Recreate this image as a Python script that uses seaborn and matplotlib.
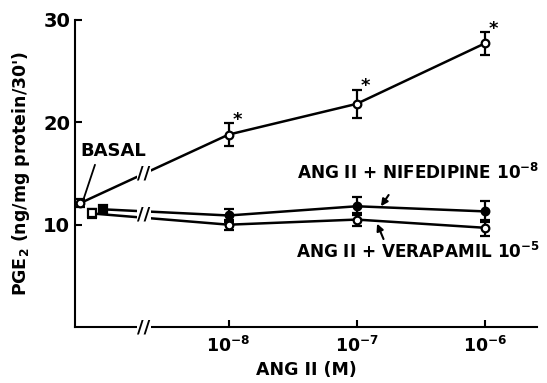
import numpy as np
import pandas as pd
import matplotlib
matplotlib.use('Agg')
import matplotlib.pyplot as plt
import seaborn as sns

# x positions in log10(M); basal / drug-alone points sit left of the axis break
conc_x = [-8, -7, -6]
conc_labels = ['$10^{-8}$', '$10^{-7}$', '$10^{-6}$']

basal_x, basal_y, basal_err = -9.16, 12.1, 0.4

angii_y = [18.8, 21.8, 27.7]
angii_err = [1.1, 1.4, 1.1]

nif_first_x, nif_first_y, nif_first_err = -8.98, 11.5, 0.3
nif_y = [10.9, 11.8, 11.3]
nif_err = [0.6, 0.9, 1.0]

ver_first_x, ver_first_y, ver_first_err = -9.07, 11.1, 0.4
ver_y = [10.0, 10.5, 9.7]
ver_err = [0.5, 0.6, 0.8]

x_break = -8.66

sns.set_style('ticks')
plt.rcParams['font.family'] = ['DejaVu Sans']
plt.rcParams['font.weight'] = 'bold'
plt.rcParams['axes.labelweight'] = 'bold'
plt.rcParams['mathtext.default'] = 'bf'
plt.rcParams['text.color'] = 'black'
plt.rcParams['axes.labelcolor'] = 'black'
plt.rcParams['xtick.color'] = 'black'
plt.rcParams['ytick.color'] = 'black'

fig = plt.figure(figsize=(5.47, 3.83), dpi=100)
ax = fig.add_axes([0.137, 0.146, 0.845, 0.802])

df = pd.concat([
    pd.DataFrame({'x': [basal_x] + conc_x, 'y': [basal_y] + angii_y, 'g': 'ang'}),
    pd.DataFrame({'x': [nif_first_x] + conc_x, 'y': [nif_first_y] + nif_y, 'g': 'nif'}),
    pd.DataFrame({'x': [ver_first_x] + conc_x, 'y': [ver_first_y] + ver_y, 'g': 'ver'}),
])
sns.lineplot(data=df, x='x', y='y', units='g', estimator=None, color='black',
             lw=1.8, ax=ax, legend=False)

eb = dict(fmt='none', ecolor='black', elinewidth=1.6, capsize=3.5, capthick=1.6, zorder=3)
ax.errorbar(conc_x, angii_y, yerr=angii_err, **eb)
ax.errorbar(conc_x, nif_y, yerr=nif_err, **eb)
ax.errorbar(conc_x, ver_y, yerr=ver_err, **eb)
ax.errorbar([basal_x, nif_first_x, ver_first_x], [basal_y, nif_first_y, ver_first_y],
            yerr=[basal_err, nif_first_err, ver_first_err], **eb)

mk = dict(ms=5.5, mew=1.6, mec='black', ls='none', zorder=4)
ax.plot(conc_x, angii_y, 'o', mfc='white', **mk)
ax.plot(conc_x, nif_y, 'o', mfc='black', **mk)
ax.plot(conc_x, ver_y, 'o', mfc='white', **mk)
ax.plot([basal_x], [basal_y], 'o', mfc='white', **mk)
ax.plot([nif_first_x], [nif_first_y], 's', mfc='black', **mk)
ax.plot([ver_first_x], [ver_first_y], 's', mfc='white', **mk)

# significance stars
for x, y, e in zip(conc_x, angii_y, angii_err):
    ax.annotate('*', (x, y + e), xytext=(6, -4), textcoords='offset points',
                fontsize=13, ha='center', va='bottom')

# axis breaks on the lines and on the x axis
brk = dict(ha='center', va='center', fontsize=13,
           bbox=dict(fc='white', ec='none', pad=0.2), zorder=5)
y_up = np.interp(x_break, [basal_x, conc_x[0]], [basal_y, angii_y[0]])
y_lo = (np.interp(x_break, [nif_first_x, conc_x[0]], [nif_first_y, nif_y[0]]) +
        np.interp(x_break, [ver_first_x, conc_x[0]], [ver_first_y, ver_y[0]])) / 2
ax.text(x_break, y_up, '//', **brk)
ax.text(x_break, y_lo, '//', **brk)
ax.text(x_break, 0, '//', clip_on=False, **brk)

# labels
ax.annotate('BASAL', (basal_x + 0.03, basal_y + 0.5), xytext=(-9.16, 16.3),
            fontsize=13, ha='left', va='bottom',
            arrowprops=dict(arrowstyle='-', color='black', lw=1.3, shrinkA=1, shrinkB=0,
                            relpos=(0.25, 0)))
ax.text(-6.52, 14.1, 'ANG II + NIFEDIPINE $10^{-8}$', fontsize=12.2, ha='center', va='bottom')
ax.annotate('', (-6.81, 11.8), xytext=(-6.75, 12.9),
            arrowprops=dict(arrowstyle='-|>', color='black', lw=1.5, mutation_scale=10,
                            shrinkA=0, shrinkB=0))
ax.text(-6.52, 8.35, 'ANG II + VERAPAMIL $10^{-5}$', fontsize=12.2, ha='center', va='top')
ax.annotate('', (-6.84, 10.1), xytext=(-6.79, 8.6),
            arrowprops=dict(arrowstyle='-|>', color='black', lw=1.5, mutation_scale=10,
                            shrinkA=0, shrinkB=0))

ax.set_xlim(-9.2, -5.59)
ax.set_ylim(0, 30)
ax.set_xticks(conc_x)
ax.set_xticklabels(conc_labels)
ax.set_yticks([10, 20, 30])
ax.set_yticklabels(['10', '20', '30'], fontsize=14)
ax.tick_params(axis='x', labelsize=12.5, pad=6)
ax.tick_params(direction='in', length=5, width=1.5, color='black')
for s in ['left', 'bottom']:
    ax.spines[s].set_linewidth(1.5)
    ax.spines[s].set_color('black')
sns.despine(ax=ax)
ax.set_xlabel('ANG II (M)', fontsize=12.5, labelpad=4)
ax.set_ylabel("PGE$_2$ (ng/mg protein/30')", fontsize=12.5, labelpad=8)

fig.savefig('out.png', dpi=100)
